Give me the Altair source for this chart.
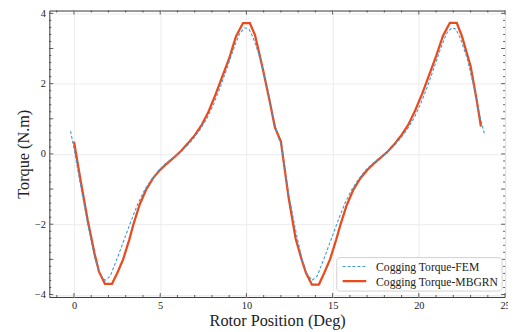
import altair as alt
import pandas as pd

# ---- data ----
mbgrn_x = [0.0, 0.4, 0.8, 1.2, 1.45, 1.8, 2.2, 2.5, 2.85, 3.2, 3.45, 3.8, 4.2, 4.6, 5.0, 5.4,
           5.8, 6.2, 6.6, 7.0, 7.4, 7.8, 8.2, 8.6, 9.0, 9.4, 9.8, 10.2, 10.5, 10.95, 11.35, 11.65,
           12.0, 12.45, 12.85, 13.2, 13.45, 13.8, 14.2, 14.5, 14.85, 15.2, 15.45, 15.8, 16.2, 16.6,
           17.0, 17.4, 17.8, 18.2, 18.6, 19.0, 19.4, 19.8, 20.2, 20.6, 21.0, 21.4, 21.8, 22.2,
           22.5, 23.0, 23.35, 23.6]
mbgrn_y = [0.35, -0.80, -1.90, -2.85, -3.35, -3.70, -3.70, -3.40, -3.00, -2.45, -2.00, -1.45,
           -1.00, -0.68, -0.45, -0.27, -0.10, 0.08, 0.30, 0.53, 0.82, 1.20, 1.68, 2.20, 2.72,
           3.35, 3.72, 3.72, 3.38, 2.42, 1.50, 0.76,
           0.35, -1.25, -2.40, -3.00, -3.38, -3.72, -3.72, -3.40, -3.00, -2.45, -2.02, -1.48,
           -1.02, -0.70, -0.46, -0.27, -0.10, 0.07, 0.29, 0.54, 0.84, 1.25, 1.72, 2.25, 2.78,
           3.36, 3.73, 3.73, 3.35, 2.50, 1.55, 0.78]

fem_x = [-0.2, 0.0, 0.4, 0.8, 1.2, 1.5, 1.8, 2.1, 2.5, 2.9, 3.3, 3.7, 4.1, 4.5, 4.9, 5.3, 5.7,
         6.1, 6.5, 6.9, 7.3, 7.7, 8.1, 8.5, 8.9, 9.3, 9.6, 9.9, 10.15, 10.4, 10.8, 11.2, 11.55,
         11.8, 12.05, 12.4, 12.8, 13.2, 13.5, 13.8, 14.1, 14.5, 14.9, 15.3, 15.7, 16.1, 16.5,
         16.9, 17.3, 17.7, 18.1, 18.5, 18.9, 19.3, 19.7, 20.1, 20.5, 20.9, 21.3, 21.6, 21.9,
         22.15, 22.4, 22.8, 23.2, 23.55, 23.8]
fem_y = [0.65, 0.15, -0.95, -2.00, -2.95, -3.42, -3.60, -3.48, -2.98, -2.45, -1.92, -1.42,
         -1.02, -0.72, -0.47, -0.28, -0.12, 0.02, 0.20, 0.42, 0.68, 1.00, 1.42, 1.92, 2.48,
         3.05, 3.42, 3.59, 3.55, 3.30, 2.72, 1.90, 1.05,
         0.55, 0.20, -1.00, -2.05, -2.95, -3.40, -3.60, -3.48, -2.98, -2.45, -1.92, -1.42,
         -1.02, -0.72, -0.47, -0.28, -0.12, 0.02, 0.20, 0.42, 0.68, 1.00, 1.42, 1.92, 2.48,
         3.05, 3.42, 3.59, 3.55, 3.30, 2.72, 1.90, 1.05, 0.58]

series_names = ["Cogging Torque-FEM", "Cogging Torque-MBGRN"]
x_major = [0, 5, 10, 15, 20, 25]
x_minor = [-1, 1, 2, 3, 4, 6, 7, 8, 9, 11, 12, 13, 14, 16, 17, 18, 19, 21, 22, 23, 24]
y_major = [-4, -3, -2, -1, 0, 1, 2, 3, 4]
y_minor = [round(-4 + 0.2 * i, 1) for i in range(41)]
y_minor = [v for v in y_minor if abs(v - round(v)) > 1e-6]

X_DOMAIN = [-1.43, 25.0]
Y_DOMAIN = [-4.07, 4.08]
W, H = 463, 291
FONT = "Liberation Serif"
BLUE = "#3D9BDB"
ORANGE = "#EA4B1E"
STYLE = {series_names[0]: dict(color=BLUE, strokeDash=[3, 2], strokeWidth=1.1),
         series_names[1]: dict(color=ORANGE, strokeDash=[1, 0], strokeWidth=2.3)}

xs = alt.Scale(domain=X_DOMAIN, nice=False, zero=False)
ys = alt.Scale(domain=Y_DOMAIN, nice=False, zero=False)

x_enc = alt.X("x:Q", scale=xs, axis=alt.Axis(
    values=x_major, title="Rotor Position (Deg)", grid=True, gridColor="#ececec",
    ticks=False, domain=False, labelPadding=4, titlePadding=1, labelFlush=False))
y_enc = alt.Y("y:Q", scale=ys, axis=alt.Axis(
    values=y_major, title="Torque (N.m)", grid=True, gridColor="#ececec",
    ticks=False, domain=False, labelPadding=4, titlePadding=3))

df_m = pd.DataFrame({"x": mbgrn_x, "y": mbgrn_y})
df_f = pd.DataFrame({"x": fem_x, "y": fem_y})
line_m = alt.Chart(df_m).mark_line(**STYLE[series_names[1]]).encode(x=x_enc, y=y_enc)
line_f = alt.Chart(df_f).mark_line(**STYLE[series_names[0]]).encode(x=x_enc, y=y_enc)


def tick_layer(vals, axis, side, length):
    df = pd.DataFrame({"v": vals})
    base = alt.Chart(df).mark_rule(color="#333", strokeWidth=0.8)
    if axis == "x":
        y0 = H if side == "bottom" else 0
        y1 = H - length if side == "bottom" else length
        return base.encode(x=alt.X("v:Q", scale=xs), y=alt.value(y0), y2=alt.value(y1))
    x0 = 0 if side == "left" else W
    x1 = length if side == "left" else W - length
    return base.encode(y=alt.Y("v:Q", scale=ys), x=alt.value(x0), x2=alt.value(x1))


ticks = []
for side in ["bottom", "top"]:
    ticks.append(tick_layer(x_major, "x", side, 4))
    ticks.append(tick_layer(x_minor, "x", side, 2))
for side in ["left", "right"]:
    ticks.append(tick_layer(y_major, "y", side, 4))
    ticks.append(tick_layer(y_minor, "y", side, 2))

# ---- legend (drawn as a framed box inside the plot, bottom right) ----
LX0, LX1, LY0, LY1 = 292, 460, 251, 285
legend_layers = [
    alt.Chart(pd.DataFrame({"k": [0]})).mark_rect(
        fill="white", stroke="#d0d0d0", strokeWidth=1, cornerRadius=3).encode(
        x=alt.value(LX0), x2=alt.value(LX1), y=alt.value(LY0), y2=alt.value(LY1))
]
for i, name in enumerate(series_names):
    yy = LY0 + 9 + 15 * i
    d = pd.DataFrame({"label": [name]})
    legend_layers.append(alt.Chart(d).mark_rule(**STYLE[name]).encode(
        x=alt.value(LX0 + 6), x2=alt.value(LX0 + 30), y=alt.value(yy)))
    legend_layers.append(alt.Chart(d).mark_text(
        align="left", baseline="middle", font=FONT, fontSize=11.8, color="#222").encode(
        text="label:N", x=alt.value(LX0 + 40), y=alt.value(yy + 0.5)))

chart = alt.layer(line_m, line_f, *ticks, *legend_layers).properties(
    width=W, height=H,
    autosize=alt.AutoSizeParams(type="none"),
    padding={"left": 42, "top": 0, "right": 3, "bottom": 33},
).configure_view(stroke="#333", strokeWidth=1).configure_axis(
    labelFont=FONT, labelFontSize=10.5, labelColor="#222",
    titleFont=FONT, titleFontSize=16.5, titleFontWeight="normal", titleColor="#222",
)

chart.save("out.html", embed_options={"renderer": "svg", "actions": False})
